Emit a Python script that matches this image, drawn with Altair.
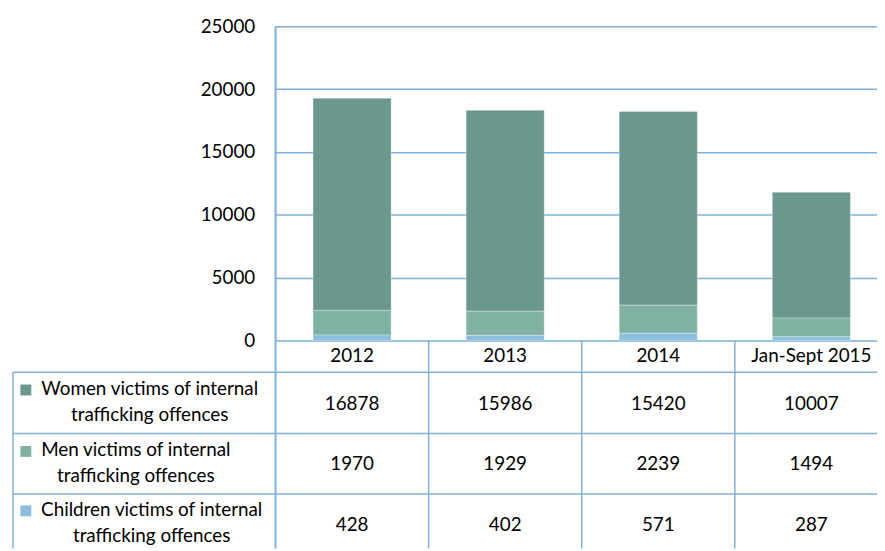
import altair as alt
import pandas as pd

# ---------------- data ----------------
years = ["2012", "2013", "2014", "Jan-Sept 2015"]
women = [16878, 15986, 15420, 10007]
men = [1970, 1929, 2239, 1494]
children = [428, 402, 571, 287]
series_names = [
    "Women victims of internal trafficking offences",
    "Men victims of internal trafficking offences",
    "Children victims of internal trafficking offences",
]
label_line1 = ["Women victims of internal", "Men victims of internal", "Children victims of internal"]
label_line2 = ["trafficking offences", "trafficking offences", "trafficking offences"]
y_ticks = [0, 5000, 10000, 15000, 20000, 25000]

# ---------------- style / layout ----------------
colors = ["#6A978E", "#80B2A4", "#8ABEDC"]
line_color = "#7DB5D9"
FONT = "Lato"
FS = 19
W, H = 618, 317
row_value_y = [381, 442, 503]
row_line1_y = [366, 428, 488]
row_center_x = [-127, -141, -125]
table_lines_y = [349, 411, 472]
bottom = 527

series_values = [women, men, children]
stack_order = [2, 1, 0]
rows = []
for s, vals, o in zip(series_names, series_values, stack_order):
    for yr, v in zip(years, vals):
        rows.append({"year": yr, "series": s, "value": v, "order": o})
df = pd.DataFrame(rows)

xscale = alt.Scale(domain=years, paddingInner=0, paddingOuter=0)
one = pd.DataFrame({"k": [0]})

bars = alt.Chart(df).mark_bar(
    width=alt.RelativeBandSize(0.51), stroke="white", strokeOpacity=0.3, strokeWidth=1
).encode(
    x=alt.X("year:N", scale=xscale, axis=None),
    y=alt.Y(
        "value:Q",
        stack="zero",
        scale=alt.Scale(domain=[0, 25000]),
        axis=alt.Axis(
            values=y_ticks, title=None, grid=True, gridColor=line_color, gridWidth=1.5,
            domain=False, ticks=False, labelFont=FONT, labelFontSize=FS,
            labelColor="#000000", labelPadding=21, format="d",
        ),
    ),
    color=alt.Color("series:N", scale=alt.Scale(domain=series_names, range=colors), legend=None),
    order=alt.Order("order:Q"),
)

layers = [bars]

# header row (years)
layers.append(
    alt.Chart(pd.DataFrame({"year": years})).mark_text(font=FONT, fontSize=FS, color="#000000").encode(
        x=alt.X("year:N", scale=xscale, axis=None), y=alt.value(333), text="year:N"
    )
)

# value rows
for i, vals in enumerate(series_values):
    d = pd.DataFrame({"year": years, "value": vals})
    layers.append(
        alt.Chart(d).mark_text(font=FONT, fontSize=FS, color="#000000").encode(
            x=alt.X("year:N", scale=xscale, axis=None),
            y=alt.value(row_value_y[i]),
            text=alt.Text("value:Q", format="d"),
        )
    )
    # row labels
    lab = pd.DataFrame({"l1": [label_line1[i]], "l2": [label_line2[i]]})
    layers.append(
        alt.Chart(lab).mark_text(font=FONT, fontSize=FS, color="#000000").encode(
            x=alt.value(row_center_x[i]), y=alt.value(row_line1_y[i]), text="l1:N"
        )
    )
    layers.append(
        alt.Chart(lab).mark_text(font=FONT, fontSize=FS, color="#000000").encode(
            x=alt.value(row_center_x[i]), y=alt.value(row_line1_y[i] + 26), text="l2:N"
        )
    )
    layers.append(
        alt.Chart(one).mark_square(filled=True, size=121, opacity=1).encode(
            x=alt.value(-252), y=alt.value(row_line1_y[i] + 1), color=alt.value(colors[i])
        )
    )

# table horizontal lines
for ty in table_lines_y:
    layers.append(
        alt.Chart(one).mark_rule(color=line_color, strokeWidth=1.5).encode(
            x=alt.value(-265), x2=alt.value(W), y=alt.value(ty)
        )
    )
# left plot line and table left border
layers.append(
    alt.Chart(one).mark_rule(color=line_color, strokeWidth=2).encode(
        x=alt.value(0), y=alt.value(0), y2=alt.value(bottom)
    )
)
layers.append(
    alt.Chart(one).mark_rule(color=line_color, strokeWidth=1.5).encode(
        x=alt.value(-265), y=alt.value(table_lines_y[0]), y2=alt.value(bottom)
    )
)
# column separators
layers.append(
    alt.Chart(pd.DataFrame({"year": years[1:]})).mark_rule(color=line_color, strokeWidth=1.5).encode(
        x=alt.X("year:N", scale=xscale, axis=None, bandPosition=0),
        y=alt.value(H), y2=alt.value(bottom),
    )
)

chart = alt.layer(*layers).properties(
    width=W, height=H,
    padding={"left": 270, "top": 16, "right": -11, "bottom": 210},
    autosize=alt.AutoSizeParams(type="none"),
).configure_view(stroke=None).configure(background="white")

chart.save("out.html", embed_options={"renderer": "svg", "actions": False})
